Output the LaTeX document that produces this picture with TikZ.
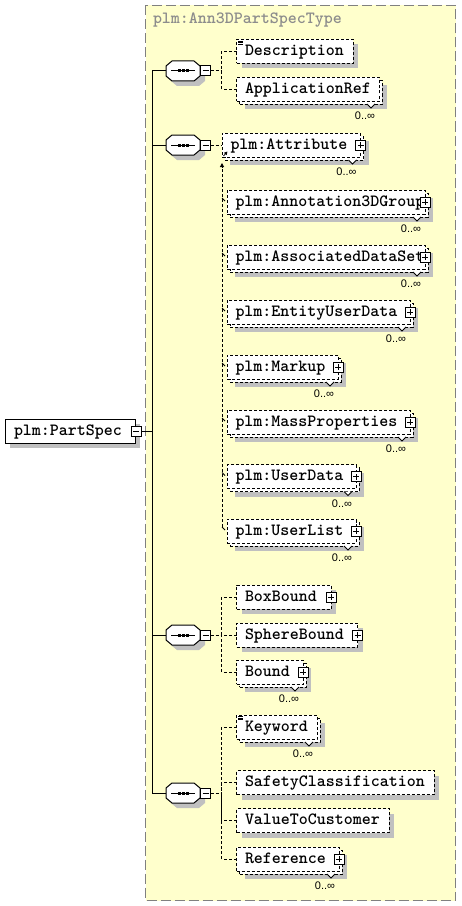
\documentclass[tikz,border=0pt]{standalone}
\usepackage{fontspec}
\newfontfamily\multfont{Liberation Sans}
\usetikzlibrary{arrows.meta}
\definecolor{bgyellow}{RGB}{255,255,204}
\definecolor{shadowc}{RGB}{192,192,192}
\definecolor{framegray}{RGB}{128,128,128}
\definecolor{titlegray}{RGB}{140,140,140}
\tikzset{
  elem/.style={draw=black, fill=white, line width=0.75pt, dash pattern=on 2.25pt off 1.5pt, rectangle, inner sep=0pt, outer sep=0pt},
  solidbox/.style={draw=black, fill=white, line width=0.75pt, solid, rectangle, inner sep=0pt, outer sep=0pt},
  pmbox/.style={solidbox, minimum width=7.5pt, minimum height=7.5pt},
  hold/.style={rectangle, inner sep=0pt, outer sep=0pt, minimum width=25.5pt, minimum height=15pt},
  lbl/.style={font=\ttfamily\bfseries\fontsize{12.85}{14}\selectfont, inner sep=0pt, outer sep=0pt, anchor=base west},
  mult/.style={font=\multfont\fontsize{8.25}{9}\selectfont, inner sep=0pt},
  conn/.style={line width=0.75pt, dash pattern=on 2.25pt off 1.5pt},
  trunk/.style={line width=0.75pt},
  shade/.style={fill=shadowc},
}
\newcommand\octpath{(-11,-10) -- (11,-10) -- (17,-5) -- (17,5) -- (11,10) -- (-11,10) -- (-17,5) -- (-17,-5) -- cycle}
\newcommand\PlusAt[3]{%
  \node[pmbox] (#1) at (#2,#3) {};
  \draw[line width=0.75pt] ([xshift=-2.25pt]#1.center) -- ([xshift=2.25pt]#1.center);
  \draw[line width=0.75pt] ([yshift=-2.25pt]#1.center) -- ([yshift=2.25pt]#1.center);
}
\newcommand\MinusAt[3]{%
  \node[pmbox] (#1) at (#2,#3) {};
  \draw[line width=0.75pt] ([xshift=-2.25pt]#1.center) -- ([xshift=2.25pt]#1.center);
}
\newcommand\DocMark[2]{%
  \draw[line width=0.5pt] (#1+1.5,#2+1.5) -- ++(5,0) (#1+1.5,#2+3) -- ++(5,0) (#1+1.5,#2+4.5) -- ++(5,0);
}
\newcommand\PlainBox[6]{%
  \fill[shade] (#2+5,#3+5) rectangle (#4+5,#5+5);
  \node[elem, minimum width={(#4-#2)*0.75pt}, minimum height={(#5-#3)*0.75pt}] (#1) at ({(#2+#4)/2},{(#3+#5)/2}) {};
  \node[lbl] (#1-t) at ({#2+8.5},{(#3+#5)/2+4}) {#6};
}
\newcommand\MultiBox[6]{%
  \fill[shade] (#2+8,#3+8) rectangle (#4+5,#5+5);
  \node[elem, minimum width={(#4-#2-3)*0.75pt}, minimum height={(#5-#3-3)*0.75pt}] (#1-b) at ({(#2+#4+3)/2},{(#3+#5+3)/2}) {};
  \node[elem, minimum width={(#4-#2-3)*0.75pt}, minimum height={(#5-#3-3)*0.75pt}] (#1) at ({(#2+#4-3)/2},{(#3+#5-3)/2}) {};
  \draw[line width=0.75pt, fill=white] (#4-15,#5) -- (#4-11,#5+4) -- (#4-7,#5);
  \node[mult] (#1-m) at (#4-17,#5+12) {0..∞};
  \node[lbl] (#1-t) at ({#2+8.5},{(#3+#5-3)/2+4}) {#6};
}
\newcommand\Member[4]{%
  \MultiBox{#1}{227}{#2}{#3}{#2+27}{#4}
  \PlusAt{#1-p}{#3-3}{#2+12}
}
\newcommand\SeqAt[2]{%
  \fill[shade, shift={(188,#2+5)}] \octpath;
  \draw[line width=0.75pt, fill=white, shift={(183,#2)}] \octpath;
  \node[hold] (#1) at (183,#2) {};
  \draw[line width=0.75pt] (171,#2) -- (195,#2);
  \fill (177.5,#2-1.5) rectangle ++(3,3);
  \fill (181.5,#2-1.5) rectangle ++(3,3);
  \fill (185.5,#2-1.5) rectangle ++(3,3);
  \MinusAt{#1-m}{205.5}{#2}
}
\begin{document}
\begin{tikzpicture}[x=0.75pt,y=-0.75pt]
\useasboundingbox (0,0) rectangle (461,906);
% complex type frame
\draw[fill=bgyellow, draw=framegray, line width=0.75pt, dash pattern=on 7.5pt off 3pt] (145.5,5.5) rectangle (455.5,900.5);
\node[lbl, text=titlegray] (title) at (153,24) {plm:Ann3DPartSpecType};

% root element
\fill[shade] (10,424) rectangle (140,448);
\node[solidbox, minimum width=97.5pt, minimum height=18pt] (ps) at (70,431) {};
\node[lbl] (ps-t) at (14,435) {plm:PartSpec};
\MinusAt{ps-m}{136}{431}

% sequences
\SeqAt{s1}{71}
\SeqAt{s2}{145}
\SeqAt{s3}{635}
\SeqAt{s4}{793}

% sequence 1
\PlainBox{desc}{236.5}{39.5}{353}{63.5}{Description}
\DocMark{236.5}{39.5}
\MultiBox{appref}{236.5}{77.5}{382}{104}{ApplicationRef}

% sequence 2
\MultiBox{attr}{222}{133}{363.5}{160}{plm:Attribute}
\PlusAt{attr-p}{360.5}{145}
\draw[line width=0.6pt, -{Triangle[length=2.5pt,width=2.5pt]}] (attr.south west) ++(1.5,-1) -- ++(4,-4.5);
\Member{ann3d}{190}{428}{plm:Annotation3DGroup}
\Member{assoc}{245}{428}{plm:AssociatedDataSet}
\Member{entity}{300}{413}{plm:EntityUserData}
\Member{markup}{355}{341}{plm:Markup}
\Member{massp}{410}{413}{plm:MassProperties}
\Member{udata}{464.5}{359}{plm:UserData}
\Member{ulist}{519}{359}{plm:UserList}

% sequence 3
\PlainBox{boxb}{236.5}{585}{331}{609}{BoxBound}
\PlusAt{boxb-p}{331}{597}
\PlainBox{sphb}{236.5}{623}{357.5}{647}{SphereBound}
\PlusAt{sphb-p}{357.5}{635}
\MultiBox{bound}{236.5}{660}{306}{687}{Bound}
\PlusAt{bound-p}{303}{672}

% sequence 4
\MultiBox{keyw}{236.5}{715}{320}{742}{Keyword}
\DocMark{236.5}{715}
\PlainBox{safety}{236.5}{770.5}{434}{794.5}{SafetyClassification}
\PlainBox{value}{236.5}{808.5}{389}{832.5}{ValueToCustomer}
\MultiBox{refer}{236.5}{847}{342}{874}{Reference}
\PlusAt{refer-p}{339}{859}

% trunk
\coordinate (tTop) at (152,71);
\coordinate (tBot) at (152,793);
\draw[trunk] (tTop) -- (tBot);
\draw[trunk] (ps-m.east) -- (ps-m.east -| tTop);
\draw[trunk] (s1.west) -- (s1.west -| tTop);
\draw[trunk] (s2.west) -- (s2.west -| tTop);
\draw[trunk] (s3.west) -- (s3.west -| tTop);
\draw[trunk] (s4.west) -- (s4.west -| tTop);

% sequence 1 connectors
\coordinate (j1) at (221.5,71);
\draw[conn] (s1-m.east) -- (j1);
\draw[conn] (desc.west) -| (j1);
\draw[conn] (appref.west) -| (j1);

% sequence 2 connectors
\draw[conn] (s2-m.east) -- (attr.west);
\coordinate (subTop) at (222,163);
\coordinate (subBot) at (222,527);
\draw[conn, -{Triangle[length=3pt,width=3pt]}] (subBot) -- (subTop);
\foreach \m in {ann3d,assoc,entity,markup,massp,udata,ulist}{
  \draw[line width=0.75pt] (\m.north west) ++(-5,8) -- ++(3,3);
}

% sequence 3 connectors
\coordinate (j3) at (221.5,635);
\draw[conn] (s3-m.east) -- (j3);
\draw[conn] (boxb.west) -| (j3);
\draw[conn] (sphb.west) -| (j3);
\draw[conn] (bound.west) -| (j3);

% sequence 4 connectors
\coordinate (j4) at (221.5,793);
\draw[conn] (s4-m.east) -- (j4);
\draw[conn] (keyw.west) -| (j4);
\draw[conn] (safety.west) -| (j4);
\draw[conn] (value.west) -| (j4);
\draw[conn] (refer.west) -| (j4);
\end{tikzpicture}
\end{document}
